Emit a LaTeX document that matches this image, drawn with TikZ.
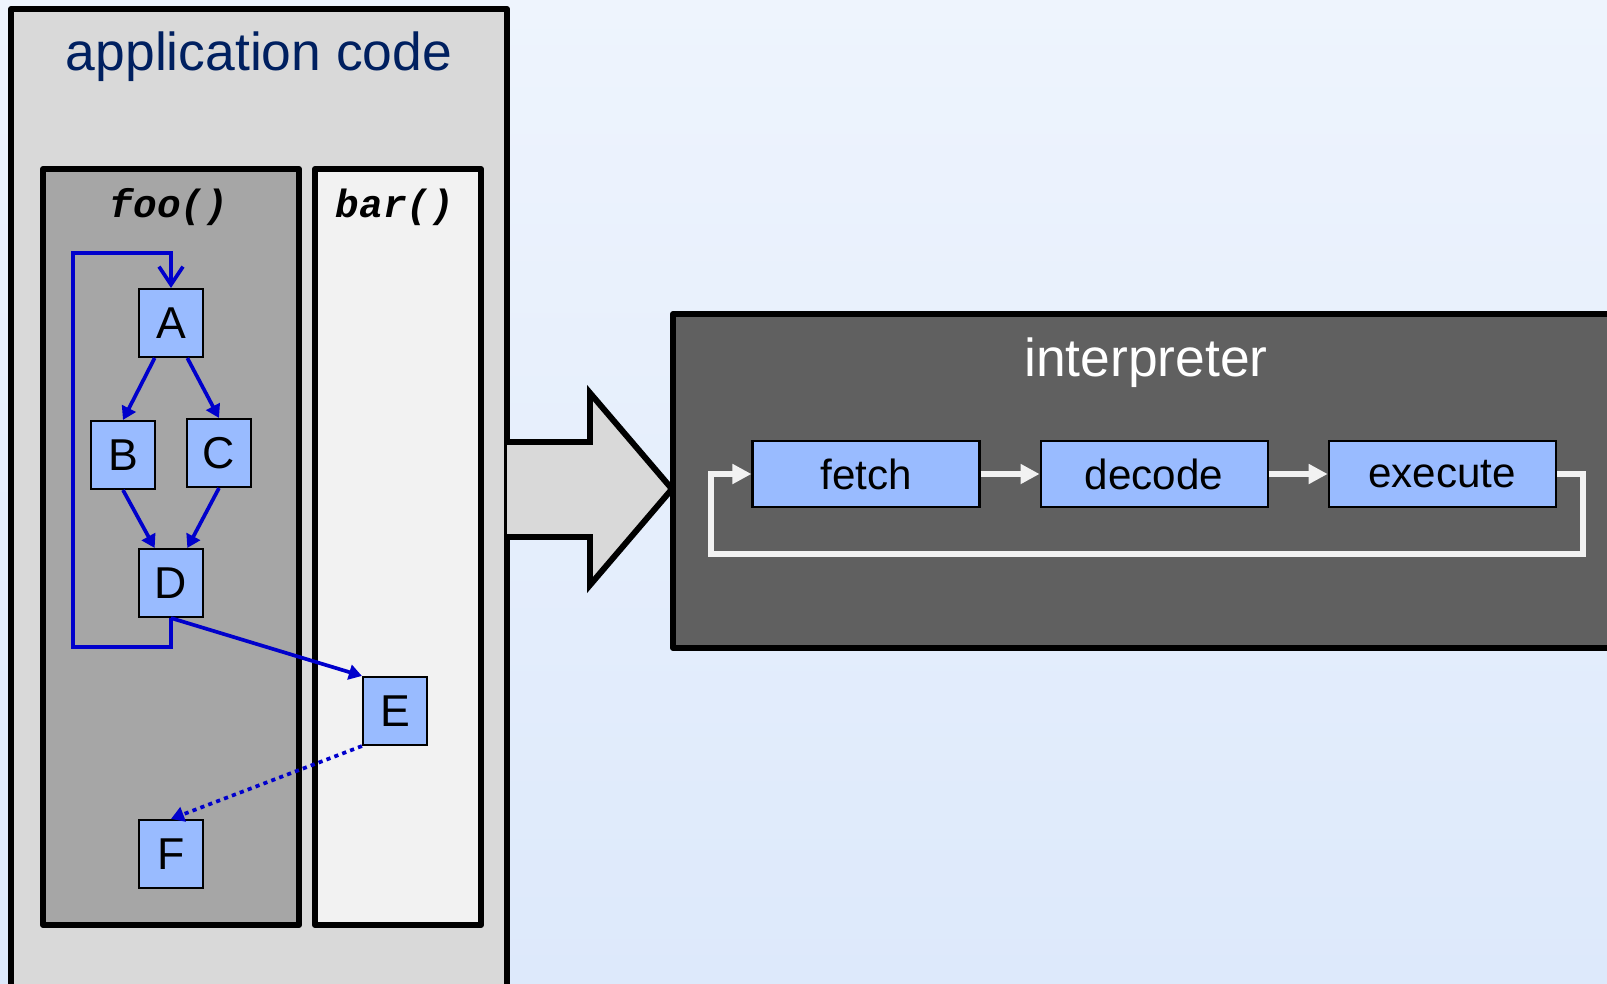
\documentclass[tikz,border=0pt]{standalone}
\usepackage{fontspec}
\setmainfont{Liberation Sans}
\newfontfamily\codefont{Liberation Mono}
\usetikzlibrary{arrows.meta}
\usetikzlibrary{positioning}

\definecolor{bgtop}{RGB}{238,244,253}
\definecolor{bgbottom}{RGB}{221,233,251}
\definecolor{appgray}{RGB}{217,217,217}
\definecolor{foogray}{RGB}{166,166,166}
\definecolor{barwhite}{RGB}{242,242,242}
\definecolor{interpgray}{RGB}{96,96,96}
\definecolor{blockblue}{RGB}{153,187,255}
\definecolor{flowblue}{RGB}{0,0,204}
\definecolor{titlenavy}{RGB}{0,32,96}
\definecolor{loopwhite}{RGB}{242,242,242}

\begin{document}
\begin{tikzpicture}

% Define styles
\tikzset{
    panel/.style={draw=black, line width=1.7pt, line join=round},
    block/.style={draw=black, fill=blockblue, line width=0.6pt, minimum width=0.64cm, minimum height=0.68cm, inner sep=0pt, font=\fontsize{12.7}{14}\selectfont},
    stage/.style={draw=black, fill=blockblue, line width=0.6pt, minimum width=2.27cm, minimum height=0.66cm, inner sep=0pt, font=\fontsize{12}{14}\selectfont},
    flow/.style={draw=flowblue, line width=1.05pt, -{Triangle[length=1.3mm,width=1.5mm]}},
    loopline/.style={draw=loopwhite, line width=1.5pt, -{Triangle[length=1.9mm,width=1.9mm]}},
    title/.style={anchor=base, font=\fontsize{15.2}{18}\selectfont},
    funcname/.style={anchor=base, font=\codefont\bfseries\itshape\fontsize{11.2}{13}\selectfont}
}

% zeige nur den sichtbaren Teil
\useasboundingbox (0,0) rectangle (16.07,9.83);
\clip (0,0) rectangle (16.07,9.83);

% background
\shade[top color=bgtop, bottom color=bgbottom] (0,0) rectangle (16.07,9.83);


% application code
\draw[panel, fill=appgray] (0.11,-0.2) rectangle (5.07,9.74);
\node[title, text=titlenavy] (APP) at (2.59,9.13) {application code};

% functions
\draw[panel, fill=foogray] (0.43,0.58) rectangle (2.99,8.14);
\draw[panel, fill=barwhite] (3.15,0.58) rectangle (4.81,8.14);
\node[funcname] (FOO) at (1.69,7.66) {foo()};
\node[funcname] (BAR) at (3.95,7.66) {bar()};


% big arrow
\fill[appgray] (5.07,5.41) -- (5.90,5.41) -- (5.90,5.90) -- (6.72,4.94) -- (5.90,3.98) -- (5.90,4.46) -- (5.07,4.46) -- cycle;
\draw[panel, line join=miter] (5.07,5.41) -- (5.90,5.41) -- (5.90,5.90) -- (6.72,4.94) -- (5.90,3.98) -- (5.90,4.46) -- (5.07,4.46);


% interpreter
\draw[panel, fill=interpgray] (6.73,3.35) rectangle (16.3,6.69);
\node[title, text=white] (INTERP) at (11.46,6.07) {interpreter};


% blocks
\node[block] (A) at (1.71,6.60) {A};
\node[block] (B) at (1.23,5.28) {B};
\node[block] (C) at (2.19,5.30) {C};
\node[block] (D) at (1.71,4.00) {D};
\node[block] (E) at (3.95,2.72) {E};
\node[block] (F) at (1.71,1.29) {F};

% control flow
\draw[flow] (A.-115) -- (B.north);
\draw[flow] (A.-65) -- (C.north);
\draw[flow] (B.south) -- (D.115);
\draw[flow] (C.south) -- (D.65);

\coordinate (BACKBL) at (0.73,3.36);
\coordinate (BACKTL) at (0.73,7.30);
\draw[flow, -{Straight Barb[length=1.8mm,width=2.4mm]}] (D.south) -- (D.south |- BACKBL) -- (BACKBL) -- (BACKTL) -- (BACKTL -| A.north) -- (A.north);

\draw[flow] (D.south) -- (E.north west);
\draw[flow, dash pattern=on 1.2pt off 1.2pt] (E.south west) -- (F.north);


% fetch decode execute
\node[stage] (FETCH) at (8.66,5.09) {fetch};
\node[stage, right=0.59cm of FETCH] (DECODE) {decode};
\node[stage, right=0.59cm of DECODE] (EXECUTE) {execute};

\draw[loopline] (FETCH.east) -- (DECODE.west);
\draw[loopline] (DECODE.east) -- (EXECUTE.west);

\coordinate (LOOPR) at (15.83,4.29);
\coordinate (LOOPL) at (7.11,4.29);
\draw[loopline] (EXECUTE.east) -| (LOOPR) -- (LOOPL) |- (FETCH.west);

\end{tikzpicture}
\end{document}
